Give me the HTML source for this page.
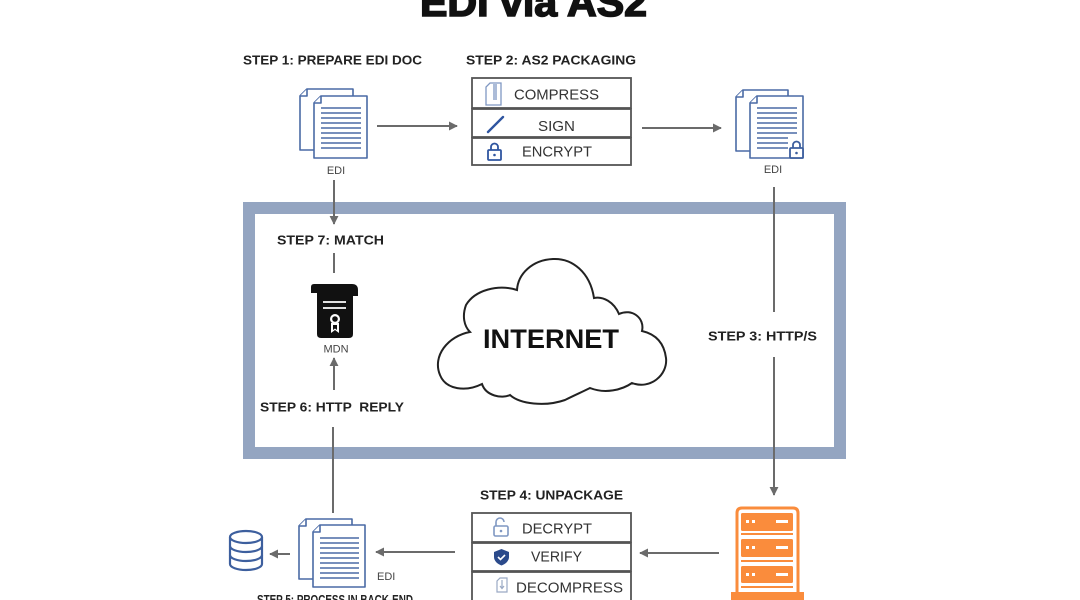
<!DOCTYPE html>
<html><head><meta charset="utf-8">
<style>
html,body{margin:0;padding:0;background:#fff;}
svg{display:block;}
.st{font-family:"Liberation Sans",sans-serif;font-weight:bold;font-size:13px;fill:#222;}
.bt{font-family:"Liberation Sans",sans-serif;font-size:15px;fill:#333;}
.sm{font-family:"Liberation Sans",sans-serif;font-size:11px;fill:#444;}
</style></head>
<body>
<svg width="1080" height="600" viewBox="0 0 1080 600" xmlns="http://www.w3.org/2000/svg">
<defs>
<marker id="ah" viewBox="0 0 10 10" refX="9" refY="5" markerWidth="4.5" markerHeight="4.5" orient="auto">
<path d="M0,0 L10,5 L0,10 Z" fill="#6b6b6b"/>
</marker>
</defs>

<!-- Title -->
<text x="420" y="16" font-family="Liberation Sans, sans-serif" font-weight="bold" font-size="40" fill="#111" stroke="#111" stroke-width="1.6" textLength="227" lengthAdjust="spacingAndGlyphs">EDI via AS2</text>

<!-- Frame -->
<rect x="249" y="208" width="591" height="245" fill="none" stroke="#94a5c1" stroke-width="12"/>

<!-- Step labels -->
<text class="st" x="243" y="64.5" textLength="179" lengthAdjust="spacingAndGlyphs">STEP 1: PREPARE EDI DOC</text>
<text class="st" x="466" y="64.5" textLength="170" lengthAdjust="spacingAndGlyphs">STEP 2: AS2 PACKAGING</text>
<text class="st" x="277" y="244.5" textLength="107" lengthAdjust="spacingAndGlyphs">STEP 7: MATCH</text>
<text class="st" x="260" y="411.5" textLength="144" lengthAdjust="spacingAndGlyphs" xml:space="preserve">STEP 6: HTTP  REPLY</text>
<text class="st" x="708" y="340.5" textLength="109" lengthAdjust="spacingAndGlyphs">STEP 3: HTTP/S</text>
<text class="st" x="480" y="499.5" textLength="143" lengthAdjust="spacingAndGlyphs">STEP 4: UNPACKAGE</text>
<text class="st" x="257" y="604" textLength="156" lengthAdjust="spacingAndGlyphs">STEP 5: PROCESS IN BACK-END</text>

<!-- Connectors -->
<g stroke="#6b6b6b" stroke-width="2" fill="none">
<line x1="377" y1="126" x2="457" y2="126" marker-end="url(#ah)"/>
<line x1="642" y1="128" x2="721" y2="128" marker-end="url(#ah)"/>
<line x1="334" y1="180" x2="334" y2="224" marker-end="url(#ah)"/>
<line x1="334" y1="253" x2="334" y2="273"/>
<line x1="334" y1="390" x2="334" y2="358" marker-end="url(#ah)"/>
<line x1="333" y1="427" x2="333" y2="513"/>
<line x1="774" y1="187" x2="774" y2="312"/>
<line x1="774" y1="357" x2="774" y2="495" marker-end="url(#ah)"/>
<line x1="719" y1="553" x2="640" y2="553" marker-end="url(#ah)"/>
<line x1="455" y1="552" x2="376" y2="552" marker-end="url(#ah)"/>
<line x1="290" y1="554" x2="270" y2="554" marker-end="url(#ah)"/>
</g>

<!-- Doc icon 1 -->
<g stroke="#4a6aa5" stroke-width="1.6" fill="#fff" stroke-linejoin="round">
<path d="M307,89 L353,89 L353,150 L300,150 L300,96 Z"/>
<path d="M307,89 L307,96 L300,96"/>
<path d="M321,96 L367,96 L367,158 L314,158 L314,103 Z"/>
<path d="M321,96 L321,103 L314,103"/>
</g>
<g stroke="#4a6aa5" stroke-width="1.6">
<line x1="321" y1="108" x2="361" y2="108"/><line x1="321" y1="113" x2="361" y2="113"/>
<line x1="321" y1="118" x2="361" y2="118"/><line x1="321" y1="123" x2="361" y2="123"/>
<line x1="321" y1="128" x2="361" y2="128"/><line x1="321" y1="133" x2="361" y2="133"/>
<line x1="321" y1="138" x2="361" y2="138"/><line x1="321" y1="143" x2="361" y2="143"/>
<line x1="321" y1="148" x2="361" y2="148"/>
</g>
<text class="sm" x="336" y="174" text-anchor="middle">EDI</text>

<!-- Doc icon 2 (locked) -->
<g stroke="#4a6aa5" stroke-width="1.6" fill="#fff" stroke-linejoin="round">
<path d="M743,90 L788,90 L788,151 L736,151 L736,97 Z"/>
<path d="M743,90 L743,97 L736,97"/>
<path d="M757,96 L803,96 L803,158 L750,158 L750,103 Z"/>
<path d="M757,96 L757,103 L750,103"/>
</g>
<g stroke="#4a6aa5" stroke-width="1.6">
<line x1="757" y1="108" x2="797" y2="108"/><line x1="757" y1="113" x2="797" y2="113"/>
<line x1="757" y1="118" x2="797" y2="118"/><line x1="757" y1="123" x2="797" y2="123"/>
<line x1="757" y1="128" x2="797" y2="128"/><line x1="757" y1="133" x2="797" y2="133"/>
<line x1="757" y1="138" x2="788" y2="138"/><line x1="757" y1="143" x2="788" y2="143"/>
<line x1="757" y1="148" x2="788" y2="148"/>
</g>
<g stroke="#3d5f9e" stroke-width="1.8" fill="#fff">
<path d="M793,148 L793,145 A3.5,3.5 0 0 1 800,145 L800,148" fill="none"/>
<rect x="790" y="148" width="13" height="10" rx="1"/>
</g>
<circle cx="796.5" cy="153" r="1.3" fill="#3d5f9e"/>
<text class="sm" x="773" y="173" text-anchor="middle">EDI</text>

<!-- Doc icon 3 (bottom) -->
<g stroke="#4a6aa5" stroke-width="1.6" fill="#fff" stroke-linejoin="round">
<path d="M306,519 L352,519 L352,579 L299,579 L299,526 Z"/>
<path d="M306,519 L306,526 L299,526"/>
<path d="M320,525 L365,525 L365,587 L313,587 L313,532 Z"/>
<path d="M320,525 L320,532 L313,532"/>
</g>
<g stroke="#4a6aa5" stroke-width="1.6">
<line x1="320" y1="538" x2="359" y2="538"/><line x1="320" y1="543" x2="359" y2="543"/>
<line x1="320" y1="548" x2="359" y2="548"/><line x1="320" y1="553" x2="359" y2="553"/>
<line x1="320" y1="558" x2="359" y2="558"/><line x1="320" y1="563" x2="359" y2="563"/>
<line x1="320" y1="568" x2="359" y2="568"/><line x1="320" y1="573" x2="359" y2="573"/>
<line x1="320" y1="578" x2="359" y2="578"/>
</g>
<text class="sm" x="377" y="580" font-size="12">EDI</text>

<!-- Database -->
<g stroke="#3d5f9e" stroke-width="2.2" fill="#fff">
<path d="M230,537 L230,564 A16,6 0 0 0 262,564 L262,537"/>
<ellipse cx="246" cy="537" rx="16" ry="6"/>
<path d="M230,546 A16,6 0 0 0 262,546" fill="none"/>
<path d="M230,555 A16,6 0 0 0 262,555" fill="none"/>
</g>

<!-- Step 2 box -->
<g stroke="#555" stroke-width="1.8" fill="#fff">
<rect x="472" y="78" width="159" height="30"/>
<rect x="472" y="109" width="159" height="28"/>
<rect x="472" y="138" width="159" height="27"/>
</g>
<text class="bt" x="514" y="99.5" textLength="85" lengthAdjust="spacingAndGlyphs">COMPRESS</text>
<text class="bt" x="538" y="131" textLength="37" lengthAdjust="spacingAndGlyphs">SIGN</text>
<text class="bt" x="522" y="156.5" textLength="70" lengthAdjust="spacingAndGlyphs">ENCRYPT</text>
<!-- compress icon -->
<g stroke="#7f97c2" stroke-width="1.3" fill="none">
<path d="M490,83 L501,83 L501,105 L486,105 L486,87 Z"/>
<line x1="494" y1="84" x2="494" y2="100"/>
<line x1="496" y1="84" x2="496" y2="100"/>
</g>
<line x1="488" y1="132" x2="503" y2="117" stroke="#2f55a0" stroke-width="2.4" stroke-linecap="round"/>
<g stroke="#2f55a0" stroke-width="1.8" fill="none">
<path d="M491,150 L491,147 A3.5,3.5 0 0 1 498,147 L498,150"/>
<rect x="488" y="150" width="13" height="10" rx="1"/>
</g>
<circle cx="494.5" cy="155" r="1.3" fill="#2f55a0"/>

<!-- Step 4 box -->
<g stroke="#555" stroke-width="1.8" fill="#fff">
<rect x="472" y="513" width="159" height="29"/>
<rect x="472" y="543" width="159" height="28"/>
<rect x="472" y="572" width="159" height="30"/>
</g>
<text class="bt" x="522" y="533.5" textLength="70" lengthAdjust="spacingAndGlyphs">DECRYPT</text>
<text class="bt" x="531" y="561.5" textLength="51" lengthAdjust="spacingAndGlyphs">VERIFY</text>
<text class="bt" x="516" y="592.5" textLength="107" lengthAdjust="spacingAndGlyphs">DECOMPRESS</text>
<!-- unlock icon -->
<g stroke="#7f97c2" stroke-width="1.6" fill="none">
<path d="M496,526 L496,522 A4,4 0 0 1 504,522"/>
<rect x="494" y="526" width="14" height="10" rx="1.5"/>
</g>
<circle cx="501" cy="531" r="1.3" fill="#7f97c2"/>
<!-- shield -->
<path d="M501.5,549 L509,552 L509,557 C509,561 505.5,564 501.5,565.5 C497.5,564 494,561 494,557 L494,552 Z" fill="#2b4a8b"/>
<path d="M498,557 L500.5,559.5 L505,555" stroke="#fff" stroke-width="1.6" fill="none"/>
<!-- decompress icon -->
<g stroke="#9aa9c4" stroke-width="1.2" fill="none">
<path d="M500,578 L507,578 L507,592 L497,592 L497,581 Z"/>
<line x1="502" y1="580" x2="502" y2="588"/>
<path d="M500,586 L502,588.5 L504,586"/>
</g>

<!-- Server -->
<g fill="#fa8c3c">
<path d="M737,593 L737,513 Q737,508 742,508 L793,508 Q798,508 798,513 L798,593" fill="none" stroke="#fa8c3c" stroke-width="3"/>
<rect x="731" y="592" width="73" height="8"/>
<rect x="741" y="513" width="52" height="18" rx="1.5"/>
<rect x="741" y="539" width="52" height="18" rx="1.5"/>
<rect x="741" y="566" width="52" height="17" rx="1.5"/>
<rect x="741" y="533" width="52" height="2"/>
<rect x="741" y="560" width="52" height="2"/>
<rect x="741" y="586" width="52" height="2"/>
</g>
<g fill="#fff">
<rect x="746" y="520" width="3" height="3"/><rect x="752" y="520" width="3" height="3"/><rect x="776" y="520" width="12" height="3"/>
<rect x="746" y="546" width="3" height="3"/><rect x="752" y="546" width="3" height="3"/><rect x="776" y="546" width="12" height="3"/>
<rect x="746" y="573" width="3" height="3"/><rect x="752" y="573" width="3" height="3"/><rect x="776" y="573" width="12" height="3"/>
</g>

<!-- MDN icon -->
<g fill="#111">
<path d="M317,290 L353,290 L353,334 Q353,338 349,338 L321,338 Q317,338 317,334 Z"/>
<path d="M314,284 L352,284 Q358,284 358,290 L358,296 L353,296 L353,291 L346,291 L346,293 L311,293 L311,287 Q311,284 314,284 Z"/>
</g>
<g stroke="#fff" stroke-width="1.8">
<line x1="323" y1="302" x2="346" y2="302"/>
<line x1="323" y1="308" x2="346" y2="308"/>
</g>
<circle cx="335" cy="319" r="5" fill="#fff"/>
<circle cx="335" cy="319" r="2.8" fill="#111"/>
<path d="M331,323 L331,333 L335,330 L339,333 L339,323 Z" fill="#fff"/>
<path d="M333,325 L333,330 L335,328.5 L337,330 L337,325 Z" fill="#111"/>
<text class="sm" x="336" y="352.5" text-anchor="middle" font-size="13" fill="#555">MDN</text>

<!-- Cloud -->
<path d="M470,332
C448,336 432,356 440,375
C446,390 466,392 482,384
C486,396 502,399 510,395
C520,404 545,407 565,400
C575,395 582,392 590,388
C605,394 622,390 632,383
C650,390 668,375 666,358
C664,342 655,334 642,331
C645,318 632,308 619,314
C614,302 603,296 594,298
C590,272 572,258 553,259
C532,260 518,274 517,290
C498,284 475,290 466,305
C462,316 464,326 470,332 Z"
fill="#fff" stroke="#222" stroke-width="2"/>
<text x="483" y="348" font-family="Liberation Sans, sans-serif" font-weight="bold" font-size="27" fill="#111" textLength="136" lengthAdjust="spacingAndGlyphs">INTERNET</text>
</svg>
</body></html>
